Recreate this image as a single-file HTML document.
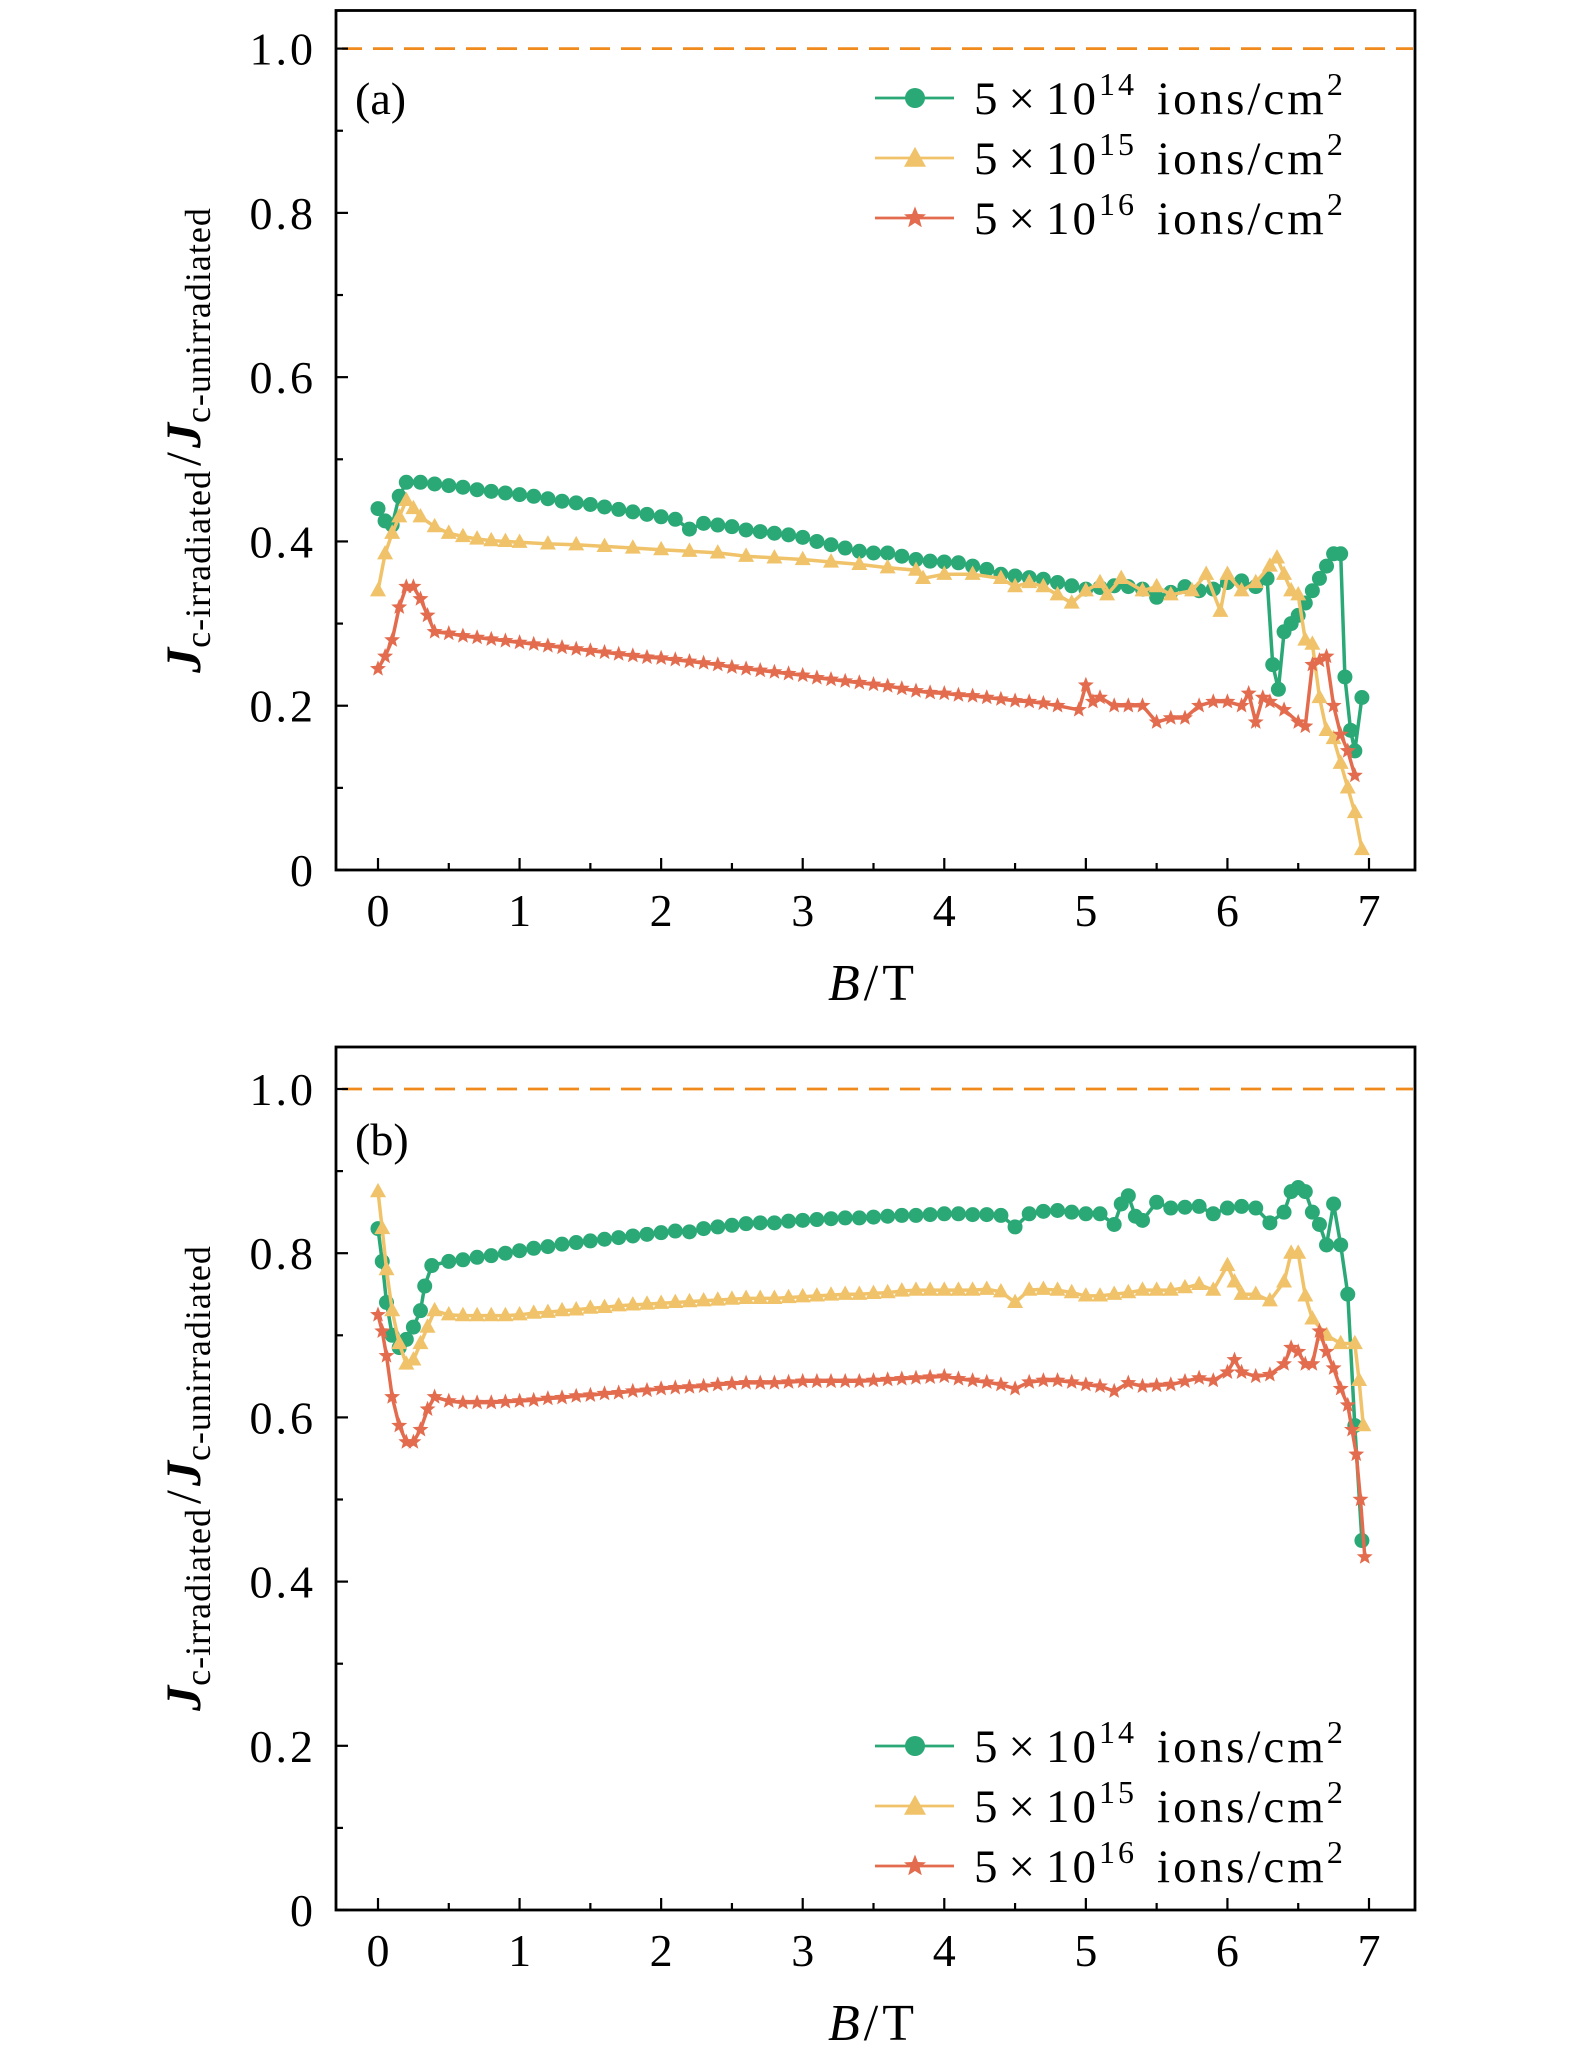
<!DOCTYPE html>
<html><head><meta charset="utf-8"><style>
html,body{margin:0;padding:0;background:#fff}
svg{display:block;font-family:"Liberation Serif","DejaVu Serif",serif}
</style></head><body>
<svg id="fig" width="1575" height="2067" viewBox="0 0 1575 2067" xmlns="http://www.w3.org/2000/svg"></svg>
<script>
// ---- data ----
const xTicks = [0,1,2,3,4,5,6,7];
const yTicks = [0,0.2,0.4,0.6,0.8,1.0];
const yTickLabels = ["0","0.2","0.4","0.6","0.8","1.0"];
const seriesNames = ["5×10^14","5×10^15","5×10^16"];
const refLineValue = 1.0;

const aGreen = [[0,.44],[0.05,.425],[0.1,.42],[0.15,.455],[0.2,.472],[0.3,.472],[0.4,.470],[0.5,.468],[0.6,.466],[0.7,.463],[0.8,.461],[0.9,.459],[1.0,.457],[1.1,.455],[1.2,.452],[1.3,.449],[1.4,.447],[1.5,.445],[1.6,.442],[1.7,.439],[1.8,.436],[1.9,.433],[2.0,.430],[2.1,.427],[2.2,.415],[2.3,.422],[2.4,.420],[2.5,.418],[2.6,.414],[2.7,.412],[2.8,.410],[2.9,.408],[3.0,.405],[3.1,.400],[3.2,.396],[3.3,.392],[3.4,.388],[3.5,.386],[3.6,.386],[3.7,.382],[3.8,.378],[3.9,.376],[4.0,.375],[4.1,.374],[4.2,.370],[4.3,.366],[4.4,.360],[4.5,.358],[4.6,.356],[4.7,.354],[4.8,.350],[4.9,.346],[5.0,.342],[5.1,.344],[5.2,.346],[5.3,.345],[5.4,.342],[5.5,.332],[5.6,.338],[5.7,.345],[5.8,.340],[5.9,.342],[6.0,.350],[6.1,.352],[6.2,.345],[6.28,.355],[6.32,.25],[6.36,.22],[6.4,.29],[6.45,.30],[6.5,.31],[6.55,.325],[6.6,.34],[6.65,.355],[6.7,.37],[6.75,.385],[6.8,.385],[6.83,.235],[6.87,.17],[6.9,.145],[6.95,.21]];
const aYellow = [[0,.34],[0.05,.385],[0.1,.41],[0.15,.43],[0.2,.45],[0.25,.44],[0.3,.43],[0.4,.418],[0.5,.41],[0.6,.406],[0.7,.403],[0.8,.401],[0.9,.400],[1.0,.399],[1.2,.397],[1.4,.396],[1.6,.394],[1.8,.392],[2.0,.390],[2.2,.388],[2.4,.386],[2.6,.382],[2.8,.380],[3.0,.378],[3.2,.375],[3.4,.372],[3.6,.368],[3.8,.365],[3.85,.355],[4.0,.36],[4.2,.36],[4.4,.355],[4.5,.345],[4.6,.35],[4.7,.345],[4.8,.335],[4.9,.325],[5.0,.34],[5.1,.35],[5.15,.335],[5.25,.355],[5.4,.34],[5.5,.345],[5.6,.335],[5.75,.34],[5.85,.36],[5.95,.315],[6.0,.36],[6.1,.34],[6.2,.35],[6.3,.37],[6.35,.38],[6.4,.36],[6.45,.34],[6.5,.335],[6.55,.28],[6.6,.275],[6.65,.21],[6.7,.17],[6.75,.16],[6.8,.13],[6.85,.10],[6.9,.07],[6.95,.025]];
const aRed = [[0,.245],[0.05,.26],[0.1,.28],[0.15,.32],[0.2,.345],[0.25,.345],[0.3,.33],[0.35,.31],[0.4,.29],[0.5,.288],[0.6,.285],[0.7,.283],[0.8,.281],[0.9,.279],[1.0,.277],[1.1,.275],[1.2,.273],[1.3,.271],[1.4,.269],[1.5,.267],[1.6,.265],[1.7,.263],[1.8,.261],[1.9,.259],[2.0,.258],[2.1,.256],[2.2,.254],[2.3,.252],[2.4,.250],[2.5,.247],[2.6,.245],[2.7,.243],[2.8,.241],[2.9,.239],[3.0,.237],[3.1,.234],[3.2,.232],[3.3,.230],[3.4,.228],[3.5,.226],[3.6,.224],[3.7,.221],[3.8,.218],[3.9,.216],[4.0,.215],[4.1,.213],[4.2,.212],[4.3,.210],[4.4,.208],[4.5,.206],[4.6,.205],[4.7,.203],[4.8,.200],[4.95,.195],[5.0,.225],[5.05,.205],[5.1,.21],[5.2,.2],[5.3,.2],[5.4,.2],[5.5,.18],[5.6,.185],[5.7,.185],[5.8,.2],[5.9,.205],[6.0,.205],[6.1,.2],[6.15,.215],[6.2,.18],[6.25,.21],[6.3,.205],[6.4,.195],[6.5,.18],[6.55,.175],[6.6,.25],[6.65,.255],[6.7,.26],[6.75,.2],[6.8,.165],[6.85,.145],[6.9,.115]];

const bGreen = [[0,.83],[0.03,.79],[0.06,.74],[0.1,.70],[0.15,.685],[0.2,.695],[0.25,.71],[0.3,.73],[0.33,.76],[0.38,.785],[0.5,.79],[0.6,.792],[0.7,.795],[0.8,.797],[0.9,.800],[1.0,.803],[1.1,.806],[1.2,.808],[1.3,.811],[1.4,.813],[1.5,.815],[1.6,.817],[1.7,.819],[1.8,.821],[1.9,.823],[2.0,.825],[2.1,.827],[2.2,.826],[2.3,.830],[2.4,.832],[2.5,.834],[2.6,.836],[2.7,.837],[2.8,.837],[2.9,.839],[3.0,.840],[3.1,.841],[3.2,.842],[3.3,.843],[3.4,.843],[3.5,.844],[3.6,.845],[3.7,.846],[3.8,.846],[3.9,.847],[4.0,.848],[4.1,.848],[4.2,.847],[4.3,.847],[4.4,.846],[4.5,.832],[4.6,.848],[4.7,.851],[4.8,.852],[4.9,.850],[5.0,.848],[5.1,.848],[5.2,.835],[5.25,.86],[5.3,.87],[5.35,.845],[5.4,.84],[5.5,.862],[5.6,.855],[5.7,.856],[5.8,.857],[5.9,.848],[6.0,.855],[6.1,.857],[6.2,.855],[6.3,.837],[6.4,.85],[6.45,.875],[6.5,.88],[6.55,.875],[6.6,.85],[6.65,.835],[6.7,.81],[6.75,.86],[6.8,.81],[6.85,.75],[6.9,.59],[6.95,.45]];
const bYellow = [[0,.875],[0.03,.83],[0.06,.78],[0.1,.73],[0.15,.69],[0.2,.665],[0.25,.67],[0.3,.69],[0.35,.71],[0.4,.73],[0.5,.725],[0.6,.724],[0.7,.724],[0.8,.724],[0.9,.724],[1.0,.725],[1.1,.727],[1.2,.728],[1.3,.730],[1.4,.731],[1.5,.733],[1.6,.734],[1.7,.736],[1.8,.737],[1.9,.738],[2.0,.739],[2.1,.740],[2.2,.741],[2.3,.742],[2.4,.743],[2.5,.744],[2.6,.745],[2.7,.745],[2.8,.745],[2.9,.746],[3.0,.747],[3.1,.748],[3.2,.749],[3.3,.750],[3.4,.75],[3.5,.751],[3.6,.752],[3.7,.754],[3.8,.755],[3.9,.755],[4.0,.755],[4.1,.755],[4.2,.755],[4.3,.756],[4.4,.753],[4.5,.74],[4.6,.755],[4.7,.756],[4.8,.755],[4.9,.752],[5.0,.748],[5.1,.748],[5.2,.75],[5.3,.752],[5.4,.755],[5.5,.755],[5.6,.755],[5.7,.758],[5.8,.762],[5.9,.755],[6.0,.785],[6.05,.765],[6.1,.75],[6.2,.75],[6.3,.742],[6.4,.765],[6.45,.80],[6.5,.80],[6.55,.748],[6.6,.72],[6.7,.70],[6.8,.69],[6.9,.69],[6.93,.645],[6.96,.59]];
const bRed = [[0,.725],[0.03,.705],[0.06,.675],[0.1,.625],[0.15,.59],[0.2,.57],[0.25,.57],[0.3,.585],[0.35,.61],[0.4,.625],[0.5,.62],[0.6,.618],[0.7,.618],[0.8,.618],[0.9,.619],[1.0,.62],[1.1,.621],[1.2,.623],[1.3,.624],[1.4,.626],[1.5,.627],[1.6,.629],[1.7,.630],[1.8,.632],[1.9,.633],[2.0,.635],[2.1,.636],[2.2,.637],[2.3,.638],[2.4,.64],[2.5,.641],[2.6,.642],[2.7,.642],[2.8,.642],[2.9,.643],[3.0,.644],[3.1,.644],[3.2,.644],[3.3,.644],[3.4,.644],[3.5,.645],[3.6,.646],[3.7,.647],[3.8,.648],[3.9,.649],[4.0,.65],[4.1,.647],[4.2,.645],[4.3,.643],[4.4,.64],[4.5,.635],[4.6,.643],[4.7,.645],[4.8,.645],[4.9,.643],[5.0,.64],[5.1,.638],[5.2,.632],[5.3,.642],[5.4,.638],[5.5,.639],[5.6,.64],[5.7,.644],[5.8,.648],[5.9,.645],[6.0,.655],[6.05,.67],[6.1,.655],[6.2,.65],[6.3,.652],[6.4,.665],[6.45,.685],[6.5,.68],[6.55,.665],[6.6,.665],[6.65,.705],[6.7,.68],[6.75,.66],[6.8,.635],[6.85,.615],[6.88,.585],[6.91,.555],[6.94,.5],[6.97,.43]];

// ---- rendering ----
const NS = "http://www.w3.org/2000/svg";
const svg = document.getElementById('fig');
const COLORS = ["#2aa876","#f0c36a","#e36c4f"];
const SHAPES = ["circle","triangle","star"];
function el(tag, attrs, parent){ const e=document.createElementNS(NS,tag); for(const k in attrs) e.setAttribute(k,attrs[k]); (parent||svg).appendChild(e); return e; }

function markerPath(shape, cx, cy, s){
  if(shape==="triangle"){ return `M${cx},${cy-s*1.1} L${cx+s},${cy+s*0.7} L${cx-s},${cy+s*0.7} Z`; }
  let d=""; for(let i=0;i<10;i++){ const r = i%2===0 ? s*1.05 : s*0.45; const a=-Math.PI/2+i*Math.PI/5; d+=(i?"L":"M")+(cx+r*Math.cos(a)).toFixed(1)+","+(cy+r*Math.sin(a)).toFixed(1); } return d+"Z";
}

function panel(cfg){
  const g = el('g',{});
  
  
  const L=336,R=1415,T=cfg.top,B=cfg.bottom;
  const x0=378, xUnit=(1369-378)/7;
  const sx = v => x0 + v*xUnit;
  const sy = v => cfg.y0 - v*(cfg.y0-cfg.y1);
  const ref = el('line',{x1:L+6,x2:R-2,y1:sy(refLineValue),y2:sy(refLineValue),stroke:"#f08a1c","stroke-width":2.8,"stroke-dasharray":"20,11"},g);
  
  
  cfg.series.forEach((pts,si)=>{
    const sg = el('g',{},g);
    
    
    el('polyline',{points:pts.map(p=>sx(p[0]).toFixed(1)+","+sy(p[1]).toFixed(1)).join(" "),fill:"none",stroke:COLORS[si],"stroke-width":3.5},sg);
    pts.forEach(p=>{
      let m;
      if(SHAPES[si]==="circle") m=el('circle',{cx:sx(p[0]),cy:sy(p[1]),r:7.5,fill:COLORS[si]},sg);
      else m=el('path',{d:markerPath(SHAPES[si],sx(p[0]),sy(p[1]),8),fill:COLORS[si]},sg);
      
      
    });
  });
  const fr = el('rect',{x:L,y:T,width:R-L,height:B-T,fill:"none",stroke:"#000","stroke-width":2.8},g);
  
  
  xTicks.forEach((v,i)=>{
    el('line',{x1:sx(v),x2:sx(v),y1:B,y2:B-12,stroke:"#000","stroke-width":2.2},g);
    if(i<xTicks.length-1) el('line',{x1:sx(v+0.5),x2:sx(v+0.5),y1:B,y2:B-7,stroke:"#000","stroke-width":2.2},g);
    const t=el('text',{x:sx(v),y:B+56,"font-size":46,"text-anchor":"middle"},g); t.textContent=v;
    
    
  });
  yTicks.forEach((v,i)=>{
    el('line',{x1:L,x2:L+12,y1:sy(v),y2:sy(v),stroke:"#000","stroke-width":2.2},g);
    if(i<yTicks.length-1) el('line',{x1:L,x2:L+7,y1:sy(v+0.1),y2:sy(v+0.1),stroke:"#000","stroke-width":2.2},g);
    const t=el('text',{x:316,y:sy(v)+16,"font-size":46,"text-anchor":"end","letter-spacing":3},g); t.textContent=yTickLabels[i];
    
    
  });
  const xt=el('text',{x:873,y:B+130,"font-size":52,"text-anchor":"middle","letter-spacing":4},g);
  xt.innerHTML='<tspan font-style="italic">B</tspan>/T';
  
  
  const yt=el('text',{x:0,y:0,"font-size":50,"text-anchor":"middle",transform:`translate(200,${cfg.ylabY}) rotate(-90)`},g);
  yt.innerHTML='<tspan font-style="italic" font-weight="bold">J</tspan><tspan font-size="36" dy="10" letter-spacing="1">c-irradiated</tspan><tspan dy="-10" dx="4">/</tspan><tspan font-style="italic" font-weight="bold" dx="4">J</tspan><tspan font-size="36" dy="10" letter-spacing="1">c-unirradiated</tspan>';
  
  
  const pl=el('text',{x:355,y:cfg.letterY,"font-size":46},g); pl.textContent=cfg.letter;
  
  
  const lg=el('g',{},g);
  
  
  seriesNames.forEach((n,si)=>{
    const y=cfg.legendY+si*60;
    const e=el('g',{},lg);
    
    
    el('line',{x1:875,x2:954,y1:y,y2:y,stroke:COLORS[si],"stroke-width":2.8},e);
    if(si===0) el('circle',{cx:915,cy:y,r:10,fill:COLORS[si]},e);
    else el('path',{d:markerPath(SHAPES[si],915,y+(si===1?1:0),11),fill:COLORS[si]},e);
    const t=el('text',{x:974,y:y+16,"font-size":47,"letter-spacing":3},e);
    const exp=n.split('^')[1];
    t.innerHTML=`5<tspan dx="8">×</tspan><tspan dx="8">10</tspan><tspan font-size="32" dy="-19">${exp}</tspan><tspan dy="19" dx="20">ions/cm</tspan><tspan font-size="32" dy="-19">2</tspan>`;
  });
}

panel({name:'panel-a',tag:'a',letter:'(a)',top:10.5,bottom:870,y0:870,y1:48.6,ylabY:440,letterY:114,legendY:98,series:[aGreen,aYellow,aRed]});
panel({name:'panel-b',tag:'b',letter:'(b)',top:1047,bottom:1910,y0:1910,y1:1089,ylabY:1478,letterY:1155,legendY:1746,series:[bGreen,bYellow,bRed]});
</script>
</body></html>
